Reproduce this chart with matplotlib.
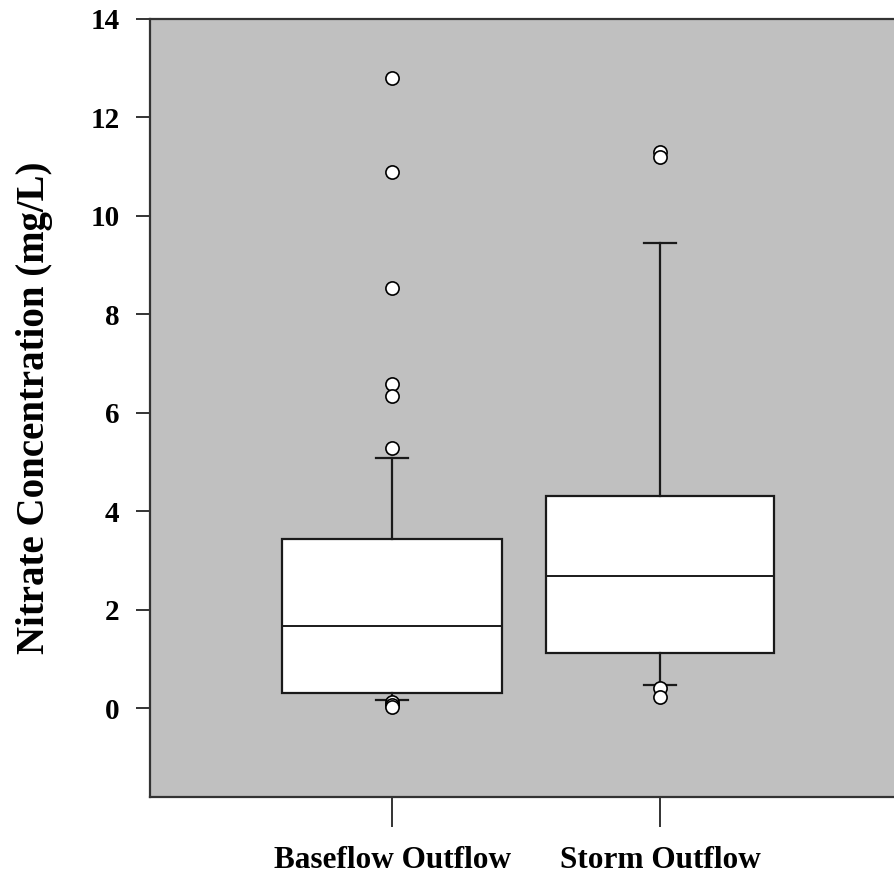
import matplotlib.pyplot as plt

# values (mg/L)
groups = ["Baseflow Outflow", "Storm Outflow"]
medians = [1.67, 2.68]
q1 = [0.32, 1.12]
q3 = [3.43, 4.30]
whisker_low = [0.16, 0.48]
whisker_high = [5.08, 9.44]
outliers = [
    [12.8, 10.88, 8.53, 6.58, 6.33, 5.28, 0.12, 0.06, 0.02],
    [11.29, 11.19, 0.41, 0.22],
]
y_ticks = [0, 2, 4, 6, 8, 10, 12, 14]

plt.rcParams['font.family'] = ['Liberation Serif', 'DejaVu Serif']
plt.rcParams['font.weight'] = 'bold'

fig = plt.figure(figsize=(8.94, 8.81), dpi=100)
ax = fig.add_axes([150 / 894, 1 - 797 / 881, 1 - 150 / 894, (797 - 18.5) / 881])
ax.set_facecolor('#c0c0c0')

stats = []
for i in range(len(groups)):
    stats.append({
        'med': medians[i], 'q1': q1[i], 'q3': q3[i],
        'whislo': whisker_low[i], 'whishi': whisker_high[i],
        'fliers': outliers[i], 'label': groups[i],
    })

ax.bxp(stats, positions=[1, 2], widths=[0.82, 0.85], capwidths=[0.12, 0.12],
       patch_artist=True,
       boxprops=dict(facecolor='white', edgecolor='#1a1a1a', linewidth=1.6),
       medianprops=dict(color='#1a1a1a', linewidth=1.4),
       whiskerprops=dict(color='#1a1a1a', linewidth=1.6),
       capprops=dict(color='#1a1a1a', linewidth=1.6),
       flierprops=dict(marker='o', markerfacecolor='white', markeredgecolor='black',
                       markersize=9.5, markeredgewidth=1.2))

ax.set_xlim(0.097, 2.873)
ax.set_ylim(-1.8, 14)
ax.set_yticks(y_ticks)
ax.set_yticklabels([str(t) for t in y_ticks], fontsize=21, fontweight='bold')
ax.set_xticks([1, 2])
ax.set_xticklabels(groups, fontsize=22.5, fontweight='bold')

ax.tick_params(axis='y', length=10, width=1.4, pad=12, color='#333333')
ax.tick_params(axis='x', length=21.5, width=1.4, pad=14, color='#333333')

ax.spines['right'].set_visible(False)
for side in ['left', 'top', 'bottom']:
    ax.spines[side].set_linewidth(1.6)
    ax.spines[side].set_color('#333333')

ax.set_ylabel("Nitrate Concentration (mg/L)", fontsize=28, fontweight='bold', labelpad=27)

fig.savefig('out.png', dpi=100)
